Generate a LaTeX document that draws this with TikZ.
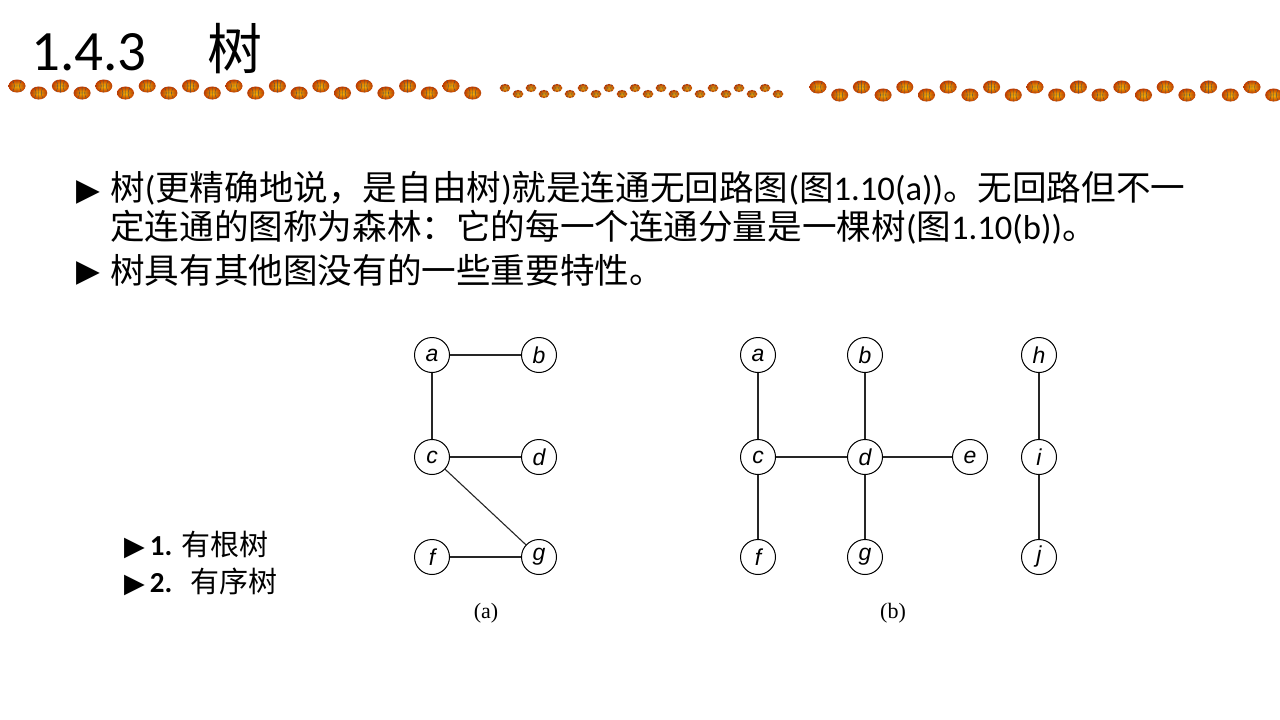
\documentclass[tikz,border=0pt]{standalone}
\usepackage{fontspec}
\setmainfont{Carlito}
\newfontfamily\cjk{Noto Sans CJK SC}
\newfontfamily\lblfont{Liberation Sans}
\newfontfamily\capfont{Liberation Serif}
\newfontfamily\symfont{DejaVu Sans}
\usetikzlibrary{positioning}
\newcommand{\z}[1]{{\cjk #1}}
\newcommand{\bball}[3]{%
\begin{scope}[shift={(#1,#2)},scale=#3]
\shade[inner color=orange!55!yellow,outer color=orange!60!red!75!black] (0,0) ellipse (8.5 and 6.5);
\draw[black!70,line width=0.35pt] (-8.5,0) -- (8.5,0) (0,-6.5) -- (0,6.5)
 (-4.5,-5.6) .. controls (-2,-2) and (-2,2) .. (-4.5,5.6)
 (4.5,-5.6) .. controls (2,-2) and (2,2) .. (4.5,5.6);
\end{scope}}
\begin{document}
\begin{tikzpicture}[x=1pt,y=-1pt,node distance=107pt,
vtx/.style={
circle,
draw,
line width=1pt,
minimum size=35pt,
inner sep=0pt,
font=\lblfont\itshape\fontsize{23}{23}\selectfont
},
edge/.style={line width=1.1pt,black!85},
txt/.style={anchor=base west,inner sep=0pt,font=\fontsize{34.6}{39}\selectfont,align=left},
bul/.style={anchor=west,inner sep=0pt,font=\symfont\fontsize{31}{31}\selectfont},
item/.style={anchor=base west,inner sep=0pt,font=\fontsize{29}{29}\selectfont},
caption/.style={font=\capfont\fontsize{22}{22}\selectfont},
]
\fill[white] (0,0) rectangle (1280,720);
\useasboundingbox (0,0) rectangle (1280,720);
\node (num) [anchor=base west,inner sep=0pt,font=\fontsize{57}{57}\selectfont] at (31,70) {1.4.3};
\node (ttl) [anchor=base west,inner sep=0pt,font=\cjk\fontsize{55}{55}\selectfont] at (207,69) {树};
\foreach \k in {0,...,10} {
\bball{17+43.4*\k}{86}{1}
\bball{38.7+43.4*\k}{93}{1}
\bball{818+43.4*\k}{87}{1}
\bball{839.7+43.4*\k}{95}{1}
\bball{505+26*\k}{88}{0.62}
\bball{518+26*\k}{94}{0.62}
}
\node (bul1) [bul] at (76,192) {▶};
\node (p1) [txt] at (110,239) {\z{树}(\z{更精确地说，是自由树})\z{就是连通无回路图}(\z{图}1.10(a))\z{。无回路但不一}\\
\z{定连通的图称为森林：它的每一个连通分量是一棵树}(\z{图}1.10(b))\z{。}};
\node (bul2) [bul] at (76,273) {▶};
\node (p2) [txt] at (110,283) {\z{树具有其他图没有的一些重要特性。}};
\node (r1) [item] at (124,555) {{\symfont\fontsize{27}{27}\selectfont ▶}\hspace{5pt}\textbf{1.} \z{有根树}};
\node (r2) [item] at (124,592) {{\symfont\fontsize{27}{27}\selectfont ▶}\hspace{5pt}\textbf{2.}\hspace{18pt}\z{有序树}};
\node (ta) [vtx] at (432,355) {a};
\node (tb) [vtx,right of=ta] {b};
\node (tc) [vtx,node distance=102pt,below of=ta] {c};
\node (td) [vtx,right of=tc] {d};
\node (tf) [vtx,node distance=100pt,below of=tc] {f};
\node (tg) [vtx,right of=tf] {g};
\node (capa) [caption] at (486,613) {(a)};
\draw[edge] (ta) -- (tb);
\draw[edge] (ta) -- (tc);
\draw[edge] (tc) -- (td);
\draw[edge] (tc) -- (tg);
\draw[edge] (tf) -- (tg);
\node (fa) [vtx] at (758,355) {a};
\node (fb) [vtx,right of=fa] {b};
\node (fh) [vtx] at (1039,355) {h};
\node (fc) [vtx,node distance=102pt,below of=fa] {c};
\node (fd) [vtx,right of=fc] {d};
\node (fe) [vtx,node distance=105pt,right of=fd] {e};
\node (fi) [vtx,node distance=102pt,below of=fh] {i};
\node (ff) [vtx,node distance=100pt,below of=fc] {f};
\node (fg) [vtx,right of=ff] {g};
\node (fj) [vtx,node distance=100pt,below of=fi] {j};
\node (capb) [caption] at (893,613) {(b)};
\draw[edge] (fa) -- (fc);
\draw[edge] (fb) -- (fd);
\draw[edge] (fc) -- (fd);
\draw[edge] (fd) -- (fe);
\draw[edge] (fc) -- (ff);
\draw[edge] (fd) -- (fg);
\draw[edge] (fh) -- (fi);
\draw[edge] (fi) -- (fj);
\end{tikzpicture}
\end{document}
